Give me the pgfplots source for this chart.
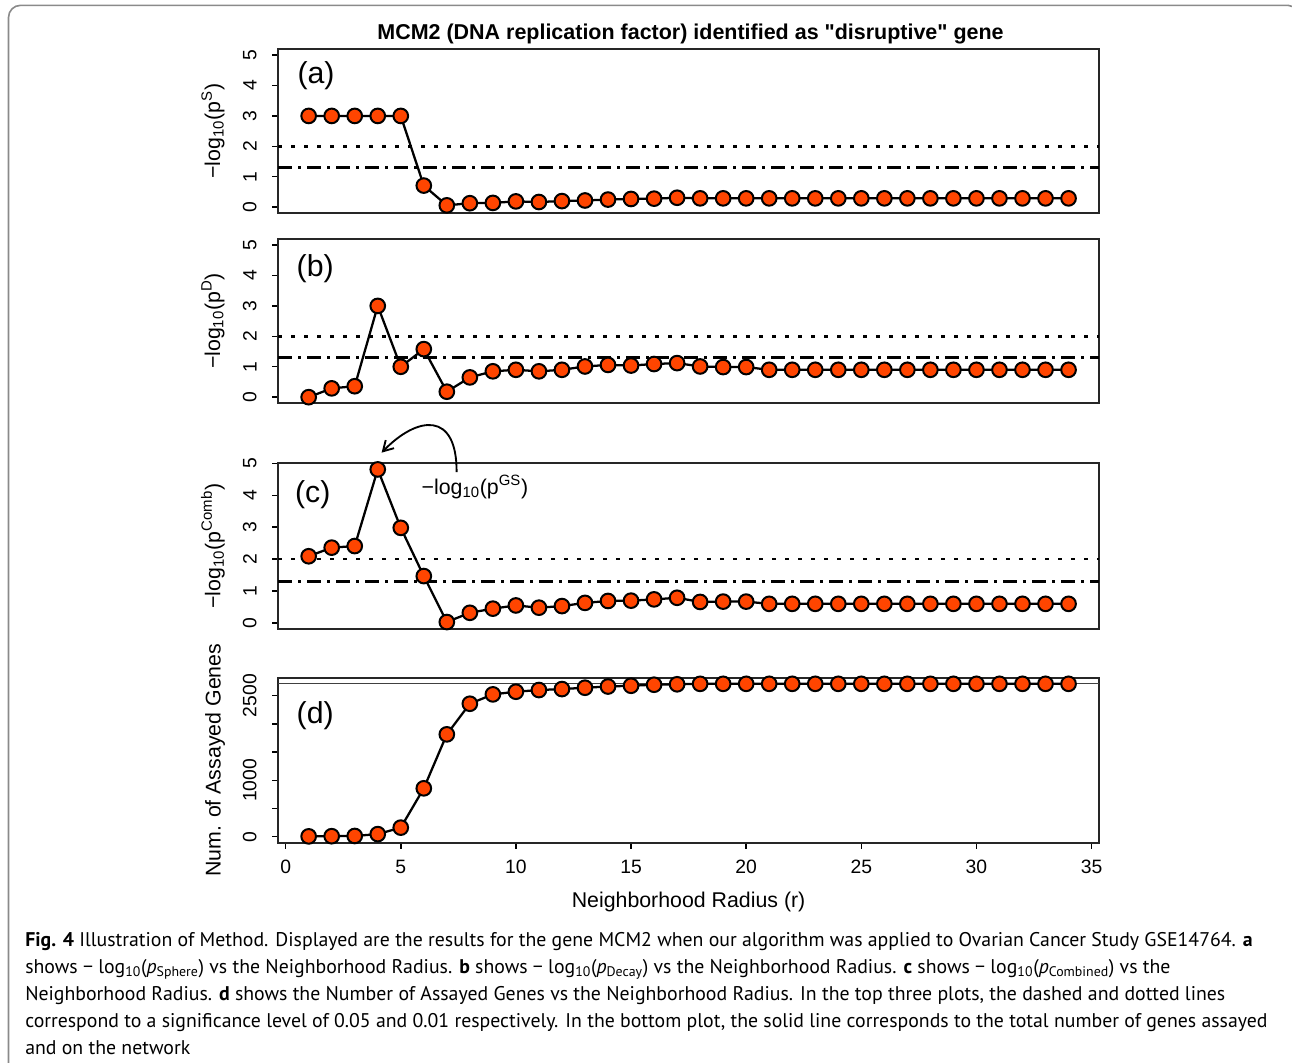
\documentclass[border=0pt]{standalone}
\usepackage{fontspec}
\setmainfont{Liberation Sans}
\newfontfamily\titlefont{Liberation Sans}[Ligatures=TeXOff]
\newfontfamily\capfont{PT Sans}
\usepackage{pgfplots}
\pgfplotsset{compat=1.18}
\usetikzlibrary{arrows.meta}
\definecolor{ptfill}{HTML}{FF4500}
\definecolor{framegray}{HTML}{8A8A8A}
\tikzset{plab/.style={font=\fontsize{22.7}{26}\selectfont, anchor=center}}
\pgfplotsset{
 rbase/.style={
  scale only axis, width=615.5pt,
  xmin=-0.32, xmax=35.32,
  axis line style={line width=1.4pt, black!85},
  tick align=outside, major tick length=4.5pt,
  xtick pos=bottom, ytick pos=left,
  every tick/.style={line width=1.1pt, black},
  tick label style={font=\fontsize{14.5}{16}\selectfont},
  /pgf/number format/assume math mode=true,
  yticklabel style={rotate=90, anchor=south, inner sep=0pt},
  yticklabel shift=11.5pt,
  every axis y label/.style={at={(axis description cs:-0.0796,0.5)}, rotate=90, anchor=center, font=\fontsize{16}{18}\selectfont},
  clip=false,
 },
 pts/.style={black, line width=1.7pt, mark=*, mark size=5.5pt, mark options={fill=ptfill, draw=black, line width=1.5pt, solid}},
 dotl/.style={black, line width=2pt, dash pattern=on 3pt off 6.75pt},
 dashdotl/.style={black, line width=2pt, dash pattern=on 10.5pt off 4.5pt on 2.25pt off 4.5pt},
}
\begin{document}
\begin{tikzpicture}
\useasboundingbox (0,0) rectangle (969pt,-797.25pt);
\draw[framegray, line width=1.2pt, rounded corners=9pt] (6.4pt,-797.25pt) -- (6.4pt,-4pt) -- (966pt,-4pt);
\draw[framegray, line width=1.2pt] (966pt,-4pt) arc[start angle=90, end angle=60, radius=6pt];
\node[font=\titlefont\bfseries\fontsize{16.1}{18}\selectfont] at (517.9pt,-25.3pt) {MCM2 (DNA replication factor) identified as "disruptive" gene};

% (a)
\begin{axis}[rbase, at={(208.7pt,-36.75pt)}, anchor=north west, height=123.2pt,
  ymin=-0.2, ymax=5.2, ytick={0,1,2,3,4,5}, xtick=\empty,
  ylabel={−log\textsubscript{10}(p\textsuperscript{S})}]
\addplot[dotl] coordinates {(-0.32,2) (35.32,2)};
\addplot[dashdotl] coordinates {(-0.32,1.301) (35.32,1.301)};
\addplot[pts] coordinates {
(1,3.0) (2,3.0) (3,3.0) (4,3.0) (5,3.0) (6,0.71) (7,0.06) (8,0.13) (9,0.14) (10,0.19)
(11,0.17) (12,0.20) (13,0.22) (14,0.25) (15,0.27) (16,0.28) (17,0.31) (18,0.29) (19,0.29) (20,0.29)
(21,0.29) (22,0.29) (23,0.29) (24,0.29) (25,0.29) (26,0.29) (27,0.29) (28,0.29) (29,0.29) (30,0.29)
(31,0.29) (32,0.29) (33,0.29) (34,0.29)};
\node[plab] at (axis description cs:0.046,0.836) {(a)};
\end{axis}

% (b)
\begin{axis}[rbase, at={(208.7pt,-179.25pt)}, anchor=north west, height=123.2pt,
  ymin=-0.2, ymax=5.2, ytick={0,1,2,3,4,5}, xtick=\empty,
  ylabel={−log\textsubscript{10}(p\textsuperscript{D})}]
\addplot[dotl] coordinates {(-0.32,2) (35.32,2)};
\addplot[dashdotl] coordinates {(-0.32,1.301) (35.32,1.301)};
\addplot[pts] coordinates {
(1,0.0) (2,0.29) (3,0.36) (4,3.0) (5,1.0) (6,1.58) (7,0.18) (8,0.65) (9,0.85) (10,0.90)
(11,0.85) (12,0.90) (13,1.01) (14,1.06) (15,1.04) (16,1.09) (17,1.12) (18,1.01) (19,0.99) (20,0.99)
(21,0.90) (22,0.90) (23,0.90) (24,0.90) (25,0.90) (26,0.90) (27,0.90) (28,0.90) (29,0.90) (30,0.90)
(31,0.90) (32,0.90) (33,0.90) (34,0.90)};
\node[plab] at (axis description cs:0.045,0.817) {(b)};
\end{axis}

% (c)
\begin{axis}[rbase, at={(208.7pt,-347.5pt)}, anchor=north west, height=124.3pt,
  ymin=-0.19, ymax=5.0, ytick={0,1,2,3,4,5}, xtick=\empty,
  ylabel={−log\textsubscript{10}(p\textsuperscript{Comb})}]
\addplot[dotl] coordinates {(-0.32,2) (35.32,2)};
\addplot[dashdotl] coordinates {(-0.32,1.301) (35.32,1.301)};
\addplot[pts] coordinates {
(1,2.09) (2,2.36) (3,2.41) (4,4.81) (5,2.98) (6,1.47) (7,0.03) (8,0.32) (9,0.45) (10,0.55)
(11,0.48) (12,0.53) (13,0.63) (14,0.69) (15,0.70) (16,0.74) (17,0.79) (18,0.66) (19,0.67) (20,0.67)
(21,0.60) (22,0.60) (23,0.60) (24,0.60) (25,0.60) (26,0.60) (27,0.60) (28,0.60) (29,0.60) (30,0.60)
(31,0.60) (32,0.60) (33,0.60) (34,0.60)};
\node[plab] at (axis description cs:0.042,0.809) {(c)};
\draw[black, line width=1.4pt, -{Straight Barb[length=7.5pt, width=8.7pt, line width=1.4pt]}]
  (axis cs:7.425,4.727) .. controls (axis cs:7.438,6.63) and (axis cs:5.745,6.505) .. (axis cs:4.168,5.335);
\node[font=\fontsize{16}{18}\selectfont] at (axis cs:8.22,4.26) {−log\textsubscript{10}(p\textsuperscript{GS})};
\end{axis}

% (d)
\begin{axis}[rbase, at={(208.7pt,-508.3pt)}, anchor=north west, height=123.75pt,
  ymin=-108, ymax=2818, ytick={0,500,1000,1500,2000,2500}, yticklabels={0,,1000,,,2500},
  scaled y ticks=false,
  xtick={0,5,10,15,20,25,30,35},
  xticklabel style={anchor=north, inner sep=0pt}, xticklabel shift=8.5pt,
  ylabel={Num. of Assayed Genes},
  every axis y label/.style={at={(axis description cs:-0.077,0.5)}, rotate=90, anchor=center, font=\fontsize{16}{18}\selectfont},
  xlabel={Neighborhood Radius (r)},
  every axis x label/.style={at={(axis description cs:0.5,-0.36)}, anchor=center, font=\fontsize{16}{18}\selectfont}]
\addplot[line width=1.4pt, black!75] coordinates {(-0.32,2716) (35.32,2716)};
\addplot[pts] coordinates {
(1,5) (2,8) (3,12) (4,45) (5,160) (6,857) (7,1814) (8,2357) (9,2523) (10,2570)
(11,2600) (12,2617) (13,2641) (14,2662) (15,2676) (16,2694) (17,2702) (18,2710) (19,2710) (20,2710)
(21,2710) (22,2710) (23,2710) (24,2710) (25,2710) (26,2710) (27,2710) (28,2710) (29,2710) (30,2710)
(31,2710) (32,2710) (33,2710) (34,2710)};
\node[plab] at (axis description cs:0.045,0.77) {(d)};
\end{axis}

% caption
\begin{scope}[every node/.style={anchor=base west, inner sep=0pt, font=\capfont\fontsize{14.85}{20}\selectfont}]
\node at (18.75pt,-709.5pt) {\textbf{Fig. 4} Illustration of Method. Displayed are the results for the gene MCM2 when our algorithm was applied to Ovarian Cancer Study GSE14764. \textbf{a}};
\node at (18.75pt,-729.75pt) {shows − log\textsubscript{10}(\textit{p}\textsubscript{Sphere}) vs the Neighborhood Radius. \textbf{b} shows − log\textsubscript{10}(\textit{p}\textsubscript{Decay}) vs the Neighborhood Radius. \textbf{c} shows − log\textsubscript{10}(\textit{p}\textsubscript{Combined}) vs the};
\node at (18.75pt,-750pt) {Neighborhood Radius. \textbf{d} shows the Number of Assayed Genes vs the Neighborhood Radius. In the top three plots, the dashed and dotted lines};
\node at (18.75pt,-770.25pt) {correspond to a significance level of 0.05 and 0.01 respectively. In the bottom plot, the solid line corresponds to the total number of genes assayed};
\node at (18.75pt,-790.5pt) {and on the network};
\end{scope}
\end{tikzpicture}
\end{document}
